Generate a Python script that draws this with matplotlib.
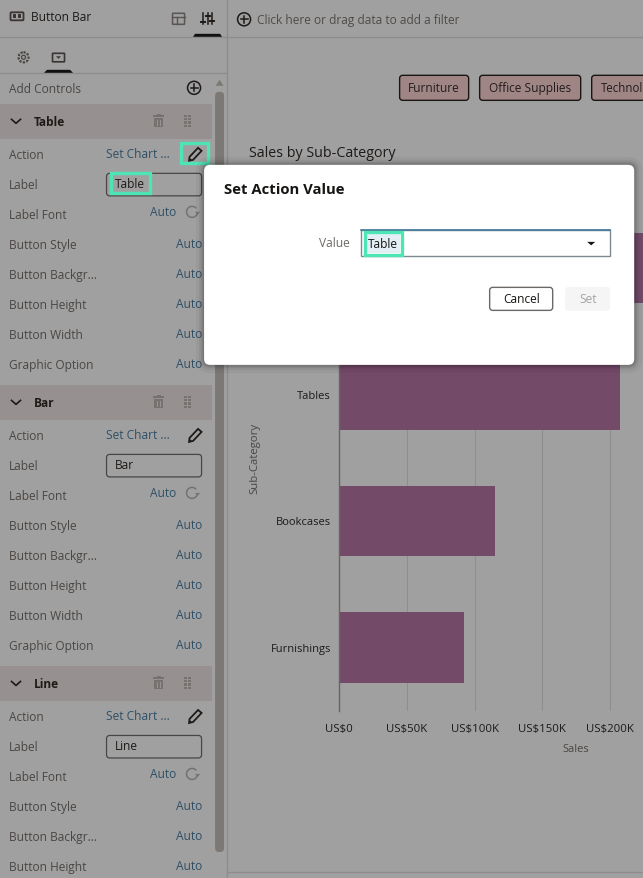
import matplotlib
matplotlib.use('Agg')
import matplotlib.pyplot as plt
from matplotlib.patches import FancyBboxPatch, Rectangle, Circle, Polygon, Arc

plt.rcParams['font.family'] = ['Open Sans', 'Noto Sans', 'DejaVu Sans']

# Chart data (top bar is mostly hidden behind the dialog)
categories = ['Chairs', 'Tables', 'Bookcases', 'Furnishings']
sales = [328000, 207000, 115000, 92000]
x_ticks = [0, 50000, 100000, 150000, 200000]
x_tick_labels = ['US$0', 'US$50K', 'US$100K', 'US$150K', 'US$200K']

# Side panel content
section_names = ['Table', 'Bar', 'Line']
row_names = ['Action', 'Label', 'Label Font', 'Button Style', 'Button Backgr...',
             'Button Height', 'Button Width', 'Graphic Option']
filter_buttons = ['Furniture', 'Office Supplies', 'Technol']

W, H = 643, 878
BG = '#a0a0a0'
DARK = '#1d1a18'
MID = '#4a4643'
BLUE = '#2f4f66'
GREEN = '#4ee5b6'
LINE = '#8c8c8c'

# the small extra keeps 8.78 * 100 from rounding down to 877 px
fig = plt.figure(figsize=((W + 0.2) / 100, (H + 0.2) / 100), dpi=100, facecolor=BG)

# Bar chart, placed in pixel position
left, right, top, bottom = 339, 643, 205, 710.7
ax = fig.add_axes([left / W, 1 - bottom / H, (right - left) / W, (bottom - top) / H])
ax.patch.set_alpha(0)
ax.barh(range(len(categories)), sales, height=0.56, color='#744a69', zorder=3)
ax.set_xlim(0, (right - left) / 67.75 * 50000)
ax.set_ylim(3.5, -0.5)
ax.set_yticks(range(len(categories)))
ax.set_yticklabels(categories, fontsize=8, color=DARK)
ax.set_xticks(x_ticks)
ax.set_xticklabels(x_tick_labels, fontsize=8.2, color=DARK)
ax.tick_params(length=0)
ax.tick_params(axis='y', pad=6)
ax.tick_params(axis='x', pad=9.5)
ax.grid(axis='x', color='#8e8e8e', linewidth=0.8, zorder=1)
for side in ['top', 'right', 'bottom']:
    ax.spines[side].set_visible(False)
ax.spines['left'].set_color('#666666')
ax.spines['left'].set_linewidth(1)
ax.spines['left'].set_zorder(4)

# Everything else is UI, drawn in pixel coordinates on top
ui = fig.add_axes([0, 0, 1, 1], zorder=2)
ui.set_xlim(0, W)
ui.set_ylim(H, 0)
ui.axis('off')


def txt(x, y, s, size=8.6, color=MID, ha='left', weight='normal', rotation=0, z=5):
    ui.text(x, y, s, fontsize=size, color=color, ha=ha, va='center',
            fontweight=weight, rotation=rotation, zorder=z, clip_on=False)


def box(x0, y0, x1, y1, fc='none', ec='none', lw=1, r=3, z=3, alpha=None):
    ui.add_patch(FancyBboxPatch((x0 + r, y0 + r), x1 - x0 - 2 * r, y1 - y0 - 2 * r,
                                boxstyle=f'round,pad={r},rounding_size={r}',
                                fc=fc, ec=ec, lw=lw, zorder=z, alpha=alpha))


def pencil(x, y):
    body = [[x - 6, y + 7], [x - 5.5, y + 3], [x + 3, y - 6], [x + 6.5, y - 3], [x - 2, y + 6]]
    ui.add_patch(Polygon(body, fc='none', ec=DARK, lw=1.3, zorder=5))
    ui.add_patch(Polygon([[x - 6, y + 7], [x - 5.5, y + 4], [x - 3, y + 6.2]], fc=DARK, ec='none', zorder=5))


def trash(x, y):
    ui.add_patch(Rectangle((x - 4.5, y - 3), 9, 9.5, fc='#777270', ec='none', zorder=5))
    ui.add_patch(Rectangle((x - 5.5, y - 5.5), 11, 1.6, fc='#777270', ec='none', zorder=5))
    ui.add_patch(Rectangle((x - 2, y - 7), 4, 1.6, fc='#777270', ec='none', zorder=5))
    ui.plot([x - 1.7, x - 1.7], [y - 1, y + 4.5], color='#9a9592', lw=0.7, zorder=6)
    ui.plot([x + 1.7, x + 1.7], [y - 1, y + 4.5], color='#9a9592', lw=0.7, zorder=6)


def drag_dots(x, y):
    for dx in [-2, 2]:
        for dy in [-5, -1.7, 1.7, 5]:
            ui.add_patch(Rectangle((x + dx - 1.2, y + dy - 1.2), 2.4, 2.4, fc='#777270',
                                   ec='none', zorder=5))


def reload_icon(x, y):
    ui.add_patch(Arc((x, y), 11, 11, theta1=20, theta2=320, color='#777270', lw=1.1, zorder=5))
    ui.add_patch(Polygon([[x + 3, y], [x + 8, y], [x + 5.5, y + 3]], fc='#777270', ec='none', zorder=5))


def plus_circle(x, y, r=6.5):
    ui.add_patch(Circle((x, y), r, fc='none', ec=DARK, lw=1.1, zorder=5))
    ui.plot([x - r + 3, x + r - 3], [y, y], color=DARK, lw=1.1, zorder=5)
    ui.plot([x, x], [y - r + 3, y + r - 3], color=DARK, lw=1.1, zorder=5)


# Frame lines
ui.plot([0, W], [37, 37], color=LINE, lw=1, zorder=2)
ui.plot([0, 227], [73, 73], color=LINE, lw=1, zorder=2)
ui.plot([227, 227], [0, H], color=LINE, lw=1, zorder=2)
ui.plot([227, W], [872, 872], color=LINE, lw=1, zorder=2)

# Panel header
box(10.5, 12.5, 23.5, 20.5, ec='#3a3532', lw=1.3, r=1)
ui.add_patch(Rectangle((13, 14.5), 3.2, 4, fc='#3a3532', ec='none', zorder=4))
ui.add_patch(Rectangle((18, 14.5), 3.2, 4, fc='#3a3532', ec='none', zorder=4))
txt(31, 17, 'Button Bar', size=8.6, color=DARK)
box(172.5, 13.5, 184.5, 24.5, ec='#5a5552', lw=1.1, r=0.5)
ui.plot([172, 185], [17, 17], color='#5a5552', lw=1, zorder=4)
ui.plot([177, 177], [17, 24.5], color='#5a5552', lw=1, zorder=4)
for sx, sy in [(203, 22), (207.5, 16), (212, 21)]:
    ui.plot([sx, sx], [13, 24.5], color=DARK, lw=1.1, zorder=4)
    ui.plot([sx - 2, sx + 2], [sy, sy], color=DARK, lw=1.4, zorder=4)
ui.add_patch(Polygon([[193, 37], [195, 34], [220, 34], [222, 37]], fc='#111111', ec='none', zorder=4))

# Tabs
ui.add_patch(Circle((23.5, 57.5), 5, fc='none', ec='#4a4643', lw=1.6, ls=(0, (1, 0.6)), zorder=4))
ui.add_patch(Circle((23.5, 57.5), 2, fc='none', ec='#4a4643', lw=0.9, zorder=4))
box(52.5, 53.5, 64.5, 62, ec='#3a3532', lw=1.2, r=0.5)
ui.add_patch(Polygon([[56, 56.5], [61, 56.5], [58.5, 59]], fc='#3a3532', ec='none', zorder=4))
ui.add_patch(Polygon([[44, 73], [47, 70], [70, 70], [73, 73]], fc='#111111', ec='none', zorder=4))

txt(9, 89.5, 'Add Controls')
plus_circle(194, 88)

# Scrollbar
ui.add_patch(Polygon([[215.5, 86], [219.5, 80], [223.5, 86]], fc='#7c7875', ec='none', zorder=3))
box(215, 92, 224, 852, fc='#7c7875', r=4, z=3)

# Sections of the panel
for i, name in enumerate(section_names):
    y0 = 122 + 281 * i
    ui.add_patch(Rectangle((0, y0 - 18), 212, 35, fc='#969190', ec='none', zorder=2))
    ui.plot([11.5, 16, 20.5], [y0 - 2.5, y0 + 1.5, y0 - 2.5], color=DARK, lw=1.2, zorder=5)
    txt(33.5, y0 + 0.5, name, size=8.6, color=DARK, weight='bold')
    trash(158.5, y0 - 1)
    drag_dots(187.5, y0 - 1)
    for j, row in enumerate(row_names):
        y = y0 + 33 + 30 * j
        if y > H:
            continue
        txt(9, y, row)
        if j == 0:
            txt(106, y - 1, 'Set Chart ...', color=BLUE)
            pencil(195, y - 1)
        elif j == 1:
            box(106.5, y - 11.5, 201.5, y + 11, ec='#4a4643', lw=0.9, r=3)
            txt(114.5, y - 0.5, name, color=DARK)
        elif j == 2:
            txt(176, y - 3, 'Auto', color=BLUE, ha='right')
            reload_icon(192, y - 3)
        else:
            txt(202, y - 1, 'Auto', color=BLUE, ha='right')

# Green highlights in the panel
ui.add_patch(Rectangle((180.5, 143.5), 27, 20, fc='none', ec=GREEN, lw=2.4, zorder=6))
ui.add_patch(Rectangle((110.5, 173), 39, 20.5, fc='none', ec=GREEN, lw=2.4, zorder=6))

# Filter bar and canvas
plus_circle(244, 19.5)
txt(257, 20.5, 'Click here or drag data to add a filter', color='#4f4b48')
button_spans = [(399.5, 468.5), (479.5, 580.5), (591.5, 680)]
for label, (bx0, bx1) in zip(filter_buttons, button_spans):
    box(bx0, 75.5, bx1, 100.5, fc='#a08585', ec='#1a1615', lw=1, r=3)
    if label == 'Technol':
        # only the start of this button fits in the frame
        txt(600.5, 88.5, label, color='#221d1c', size=8.3)
    else:
        txt((bx0 + bx1) / 2, 88.5, label, color='#221d1c', ha='center')
txt(249, 153, 'Sales by Sub-Category', size=10.3, color=DARK)
txt(255, 458, 'Sub-Category', size=8.2, rotation=90, ha='center')
txt(576, 749, 'Sales', size=8, ha='center')

# Dialog with a soft shadow
for grow, a in [(8, 0.04), (5, 0.06), (3, 0.08), (1.5, 0.10)]:
    box(204 - grow, 165 - grow, 634 + grow, 365 + grow, fc='#000000', r=6 + grow, z=6, alpha=a)
box(204, 165, 634, 365, fc='white', r=6, z=7)
txt(224, 190, 'Set Action Value', size=10.7, color='#161513', weight='bold', z=8)
txt(350, 243.5, 'Value', color='#6b6866', ha='right', z=8)
ui.add_patch(Rectangle((361, 230.5), 248.5, 25.5, fc='white', ec='#7f8a90', lw=1, zorder=8))
ui.plot([361, 609.5], [230.5, 230.5], color='#3f7a9c', lw=1.2, zorder=9)
ui.add_patch(Rectangle((367, 234.5), 33, 19, fc='#e4eef5', ec='none', zorder=8))
ui.add_patch(Rectangle((365, 232.5), 37, 23, fc='none', ec=GREEN, lw=2.4, zorder=9))
txt(368, 244.5, 'Table', color='#161513', z=10)
ui.add_patch(Polygon([[587, 242], [595, 242], [591, 245.5]], fc='#161513', ec='none', zorder=9))
box(489.5, 287.5, 552.5, 310.5, fc='white', ec='#6b6866', lw=1, r=3, z=8)
txt(521, 299.5, 'Cancel', color='#161513', ha='center', z=9)
box(565, 287, 610, 311, fc='#f5f5f5', r=3, z=8)
txt(587.5, 299.5, 'Set', color='#a5a3a1', ha='center', z=9)

fig.savefig('out.png', dpi=100, facecolor=BG)
